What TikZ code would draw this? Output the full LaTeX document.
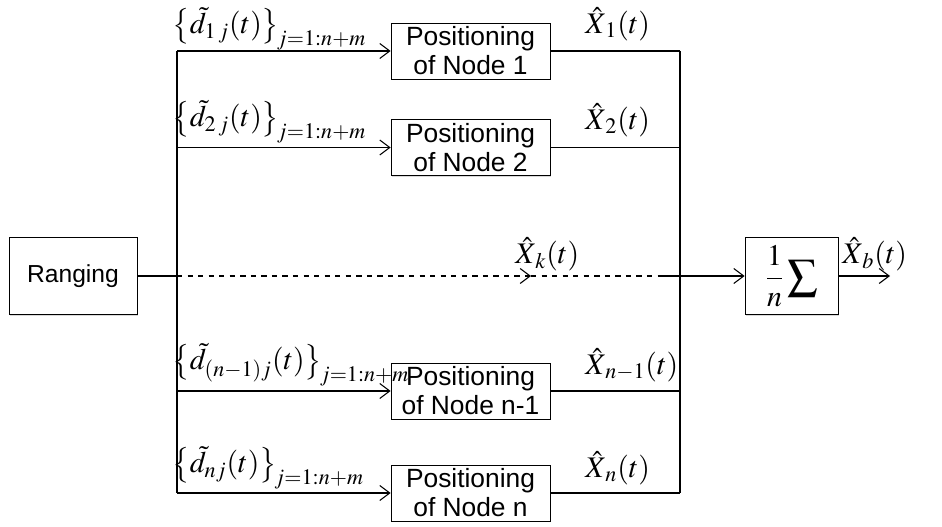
\documentclass[tikz,border=0pt]{standalone}
\usepackage{amsmath}
\usepackage{mathptmx}
\usepackage{fontspec}
\setmainfont{Liberation Sans}
\usetikzlibrary{arrows.meta,positioning,calc,shadows}

\begin{document}
\begin{tikzpicture}[
  box/.style={draw,fill=white,minimum width=3.18cm,minimum height=1.12cm,align=center,
              font=\fontsize{15}{16.5}\selectfont,inner sep=1pt,
              drop shadow={shadow xshift=0.7pt,shadow yshift=-0.7pt,opacity=0.3}},
  arr/.style={-{Straight Barb[length=2mm,width=3mm]},semithick},
  lbl/.style={anchor=west,inner sep=0pt,font=\fontsize{17}{19}\selectfont}
]
  \useasboundingbox (0,0) rectangle (18.84,-10.54);
  % Ranging
  \node[box,minimum width=2.56cm,minimum height=1.54cm,font=\fontsize{14}{16}\selectfont] (rang) at (1.46,-5.52) {Ranging};
  % Positioning blocks
  \node[box] (pos1)  at (9.41,-1.02) {Positioning\\of Node 1};
  \node[box] (pos2)  at (9.41,-2.95) {Positioning\\of Node 2};
  \node[box] (posn1) at (9.41,-7.82) {Positioning\\of Node n-1};
  \node[box] (posn)  at (9.41,-9.86) {Positioning\\of Node n};
  % Average
  \node[box,minimum width=1.86cm,minimum height=1.54cm,font=\fontsize{17}{19}\selectfont] (sum) at (15.83,-5.52) {$\displaystyle\frac{1}{n}\sum$};
  % Buses
  \coordinate (lbus) at (3.54,-5.52);
  \coordinate (rbus) at (13.6,-5.52);
  \coordinate (mid)  at (10.62,-5.52);
  \coordinate (dend) at (13.22,-5.52);
  \coordinate (out)  at (17.8,-5.52);
  \draw[semithick] (rang) -- (lbus);
  \draw[semithick] (lbus |- pos1) -- (lbus |- posn);
  \draw[semithick] (rbus |- pos1) -- (rbus |- posn);
  \foreach \p in {pos1,pos2,posn1,posn}{
    \draw[arr] (lbus |- \p) -- (\p);
    \draw[semithick] (\p) -- (rbus |- \p);
  }
  % Other nodes
  \draw[arr,dashed] (lbus) -- (mid);
  \draw[semithick,dashed] (mid) -- (dend);
  \draw[arr] (dend) -- (sum);
  \draw[arr] (sum) -- (out);
  % Ranging labels
  \node[lbl] (d1)  at (3.44,-0.58) {$\bigl\{\tilde{d}_{1\,j}(t)\bigr\}_{\!j=1:n+m}$};
  \node[lbl] (d2)  at (3.44,-2.44) {$\bigl\{\tilde{d}_{2\,j}(t)\bigr\}_{\!j=1:n+m}$};
  \node[lbl] (dn1) at (3.44,-7.3)  {$\bigl\{\tilde{d}_{(n-1)j}(t)\bigr\}_{\!j=1:n+m}$};
  \node[lbl] (dn)  at (3.44,-9.36) {$\bigl\{\tilde{d}_{nj}(t)\bigr\}_{\!j=1:n+m}$};
  % Estimates
  \node[lbl] (x1)  at (11.7,-0.48)  {$\hat{X}_{\,1}(t)$};
  \node[lbl] (x2)  at (11.7,-2.4)   {$\hat{X}_{\,2}(t)$};
  \node[lbl] (xk)  at (10.3,-5.08)  {$\hat{X}_{\,k}(t)$};
  \node[lbl] (xn1) at (11.7,-7.3)   {$\hat{X}_{\,n-1}(t)$};
  \node[lbl] (xn)  at (11.7,-9.36)  {$\hat{X}_{\,n}(t)$};
  \node[lbl] (xb)  at (16.84,-5.08) {$\hat{X}_{\,b}(t)$};
\end{tikzpicture}
\end{document}
